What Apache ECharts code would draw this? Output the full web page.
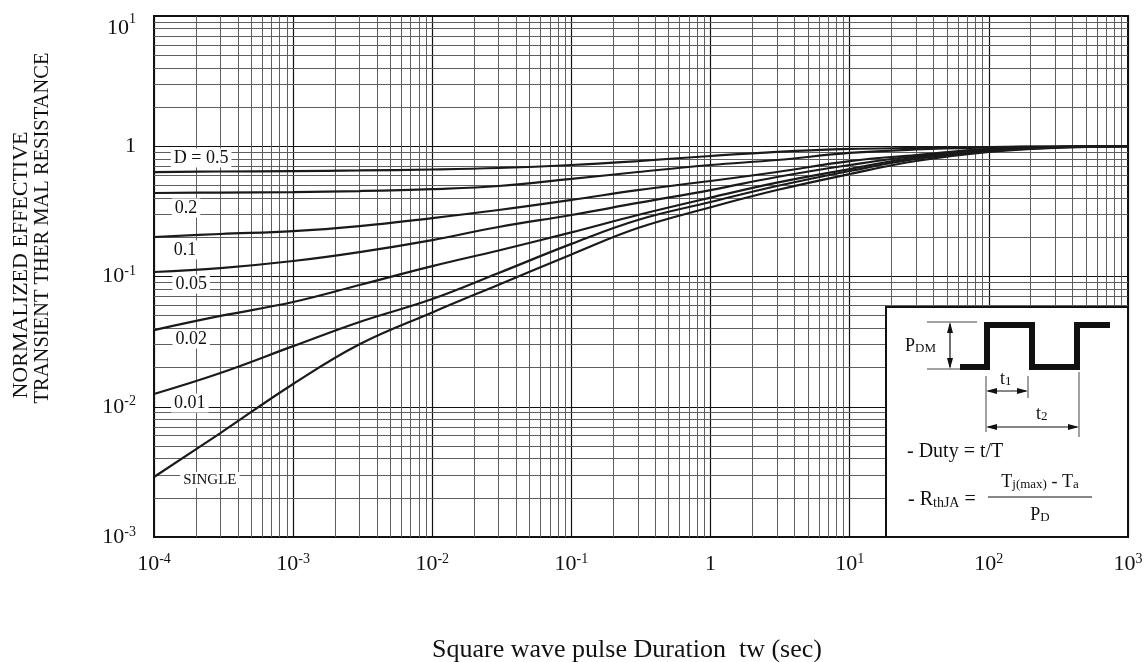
<!DOCTYPE html>
<html><head><meta charset="utf-8">
<script src="https://cdn.jsdelivr.net/npm/echarts@6/dist/echarts.min.js"></script>
<style>html,body{margin:0;padding:0;background:#fff}#c{width:1147px;height:662px}</style>
</head><body><div id="c"></div>
<script>
// ---- data ----
const durations = [1e-4, 3e-4, 1e-3, 3e-3, 1e-2, 3e-2, 0.1, 0.3, 1, 3, 10, 30, 100, 300, 1000];
const curveNames = ['D = 0.5', '0.2', '0.1', '0.05', '0.02', '0.01', 'SINGLE'];
const zD05    = [0.634, 0.640, 0.645, 0.652, 0.663, 0.681, 0.718, 0.770, 0.842, 0.904, 0.953, 0.970, 0.987, 0.995, 1.0];
const zD02    = [0.4375, 0.441, 0.445, 0.453, 0.469, 0.495, 0.561, 0.634, 0.718, 0.784, 0.888, 0.944, 0.978, 0.995, 1.0];
const zD01    = [0.201, 0.212, 0.223, 0.244, 0.281, 0.324, 0.387, 0.461, 0.541, 0.634, 0.770, 0.857, 0.953, 0.987, 1.0];
const zD005   = [0.1083, 0.116, 0.1315, 0.154, 0.1905, 0.240, 0.2965, 0.367, 0.461, 0.581, 0.718, 0.842, 0.936, 0.987, 1.0];
const zD002   = [0.0388, 0.0498, 0.0637, 0.086, 0.120, 0.1585, 0.218, 0.2965, 0.403, 0.525, 0.668, 0.822, 0.933, 0.986, 1.0];
const zD001   = [0.01253, 0.01816, 0.0292, 0.0448, 0.0672, 0.1064, 0.178, 0.2716, 0.373, 0.495, 0.646, 0.798, 0.919, 0.978, 1.0];
const zSingle = [0.00289, 0.00628, 0.01496, 0.0302, 0.0530, 0.0865, 0.1476, 0.2355, 0.340, 0.461, 0.612, 0.770, 0.904, 0.970, 1.0];
const xDecades = [-4, -3, -2, -1, 0, 1, 2];   // minor grid decades on x
const yDecades = [-3, -2, -1, 0];             // minor grid decades on y
const xTitle = 'Square wave pulse Duration  tw (sec)';
const yTitle1 = 'NORMALIZED EFFECTIVE';
const yTitle2 = 'TRANSIENT THER MAL RESISTANCE';

const allCurves = [zD05, zD02, zD01, zD005, zD002, zD001, zSingle];
// label anchor points in data space (x duration, y Z)
const labelAnchors = [[2.18e-4, 0.813], [1.70e-4, 0.336], [1.67e-4, 0.160], [1.85e-4, 0.0876], [1.85e-4, 0.0331], [1.81e-4, 0.0107], [2.52e-4, 0.00274]];

const F = "'Liberation Serif','Times New Roman',serif";
const INK = '#111';

function powLabel(v) {
  const e = Math.round(Math.log10(v));
  if (e === 0) return '{b|1}';
  const ex = (e < 0 ? '-' + (-e) : '' + e);
  return '{b|10}{s|' + ex + '}';
}
function powLabelY(v) {
  const e = Math.round(Math.log10(v));
  if (e === 0) return '{b|1}';
  const ex = (e < 0 ? '-' + (-e) : '' + e);
  if (e === 1) return '{bt|10}{st|' + ex + '}';
  return '{b|10}{s|' + ex + '}';
}
const richLab = {
  b: { fontFamily: F, fontSize: 22, color: INK, lineHeight: 24 },
  s: { fontFamily: F, fontSize: 14, color: INK, lineHeight: 14, verticalAlign: 'top' },
  bt: { fontFamily: F, fontSize: 22, color: INK, lineHeight: 46, verticalAlign: 'bottom' },
  st: { fontFamily: F, fontSize: 14, color: INK, lineHeight: 14, verticalAlign: 'bottom', padding: [0, 0, 13, 0] }
};

const minorX = [], minorY = [];
xDecades.forEach(d => { for (let m = 2; m <= 9; m++) minorX.push({ xAxis: m * Math.pow(10, d) }); });
yDecades.forEach(d => { for (let m = 2; m <= 9; m++) minorY.push({ yAxis: m * Math.pow(10, d) }); });

const series = allCurves.map((vals, i) => ({
  name: curveNames[i],
  type: 'line',
  data: durations.map((t, k) => [t, vals[k]]),
  showSymbol: false,
  smooth: 0.4,
  z: 5,
  lineStyle: { color: '#1a1a1a', width: 2.2 },
  animation: false,
  markPoint: {
    symbol: 'circle', symbolSize: 1, silent: true, animation: false,
    itemStyle: { color: 'rgba(0,0,0,0)' },
    data: [{ coord: labelAnchors[i] }],
    label: {
      show: true, position: 'inside', formatter: curveNames[i],
      fontFamily: F, fontSize: i === 6 ? 15 : 18, color: INK,
      backgroundColor: '#fff', padding: [1, 3, 0, 3]
    }
  }
}));

series.push({
  type: 'line', data: [], z: 1, silent: true, animation: false,
  markLine: {
    silent: true, animation: false, symbol: ['none', 'none'], precision: 12,
    label: { show: false },
    lineStyle: { type: 'solid', color: '#5e5e5e', width: 1 },
    data: minorX.concat(minorY)
  }
});

const chart = echarts.init(document.getElementById('c'), null, { renderer: 'canvas' });

const ln = (x1, y1, x2, y2, w, c) => ({ type: 'line', z: 30, shape: { x1, y1, x2, y2 }, style: { stroke: c || '#222', lineWidth: w || 1 } });
const tri = (pts) => ({ type: 'polygon', z: 30, shape: { points: pts }, style: { fill: '#111' } });
const txt = (x, y, text, size, align, rich) => ({
  type: 'text', z: 30, x, y,
  style: { text, font: size + 'px ' + F, fontFamily: F, fontSize: size, fill: INK, textAlign: align || 'left', align: align || 'left', textVerticalAlign: 'middle', verticalAlign: 'middle', rich: rich }
});
const subRich = (s) => ({ m: { fontFamily: F, fontSize: s, fill: INK, color: INK }, u: { fontFamily: F, fontSize: Math.round(s * 0.72), fill: INK, color: INK, verticalAlign: 'bottom', lineHeight: Math.round(s * 1.0) } });

chart.setOption({
  animation: false,
  backgroundColor: '#fff',
  grid: { left: 154, top: 16, right: 19, bottom: 125, show: true, borderColor: INK, borderWidth: 2, backgroundColor: 'transparent', containLabel: false, outerBoundsMode: 'none' },
  xAxis: {
    type: 'log', logBase: 10, min: 1e-4, max: 1e3, splitNumber: 7,
    axisLine: { show: true, onZero: false, lineStyle: { color: INK, width: 2 } },
    axisTick: { show: false },
    axisLabel: { formatter: powLabel, rich: richLab, margin: 15 },
    splitLine: { show: true, lineStyle: { color: '#111', width: 1.2 } }
  },
  yAxis: {
    type: 'log', logBase: 10, min: 1e-3, max: 10, splitNumber: 4,
    axisLine: { show: true, onZero: false, lineStyle: { color: INK, width: 2 } },
    axisTick: { show: false },
    axisLabel: { formatter: powLabelY, rich: richLab, margin: 18 },
    splitLine: { show: true, lineStyle: { color: '#111', width: 1.2 } }
  },
  series: series,
  graphic: [
    { type: 'text', z: 30, x: 627, y: 650, style: { text: xTitle, font: '26px ' + F, fill: INK, textAlign: 'center', align: 'center', textVerticalAlign: 'middle', verticalAlign: 'middle' } },
    { type: 'text', z: 30, x: 21, y: 265, rotation: Math.PI / 2, style: { text: yTitle1, font: '22px ' + F, fill: INK, textAlign: 'center', align: 'center', textVerticalAlign: 'middle', verticalAlign: 'middle' } },
    { type: 'text', z: 30, x: 43, y: 228, rotation: Math.PI / 2, style: { text: yTitle2, font: '20.5px ' + F, fill: INK, textAlign: 'center', align: 'center', textVerticalAlign: 'middle', verticalAlign: 'middle' } },
    // inset box
    { type: 'rect', z: 29, shape: { x: 886, y: 307, width: 242, height: 230 }, style: { fill: '#fff', stroke: INK, lineWidth: 2 } },
    { type: 'polyline', z: 30, shape: { points: [[960, 367], [987, 367], [987, 325], [1032, 325], [1032, 367], [1077, 367], [1077, 325], [1110, 325]] }, style: { stroke: '#111', lineWidth: 6, fill: null, lineJoin: 'miter' } },
    ln(927, 322, 977, 322, 1, '#444'), ln(927, 369, 960, 369, 1, '#444'), ln(950, 324, 950, 367, 1.2, '#111'),
    tri([[950, 322], [947, 333], [953, 333]]), tri([[950, 369], [947, 358], [953, 358]]),
    ln(986, 376, 986, 432, 1, '#444'), ln(1028, 376, 1028, 398, 1, '#444'), ln(1079, 372, 1079, 437, 1, '#444'),
    ln(988, 391, 1026, 391, 1.2, '#111'), tri([[986, 391], [997, 388], [997, 394]]), tri([[1028, 391], [1017, 388], [1017, 394]]),
    ln(988, 427, 1077, 427, 1.2, '#111'), tri([[986, 427], [997, 424], [997, 430]]), tri([[1079, 427], [1068, 424], [1068, 430]]),
    txt(905, 346, '{m|P}{u|DM}', 18, 'left', subRich(18)),
    txt(1000, 379, '{m|t}{u|1}', 18, 'left', subRich(18)),
    txt(1036, 414, '{m|t}{u|2}', 18, 'left', subRich(18)),
    txt(907, 452, '- Duty = t/T', 20, 'left'),
    txt(908, 500, '{m|- R}{u|thJA}{m| =}', 20, 'left', subRich(20)),
    txt(1040, 482, '{m|T}{u|j(max)}{m| - T}{u|a}', 18, 'center', subRich(18)),
    ln(988, 497, 1092, 497, 1.2, '#111'),
    txt(1040, 515, '{m|P}{u|D}', 18, 'center', subRich(18))
  ]
});
</script>
</body></html>
